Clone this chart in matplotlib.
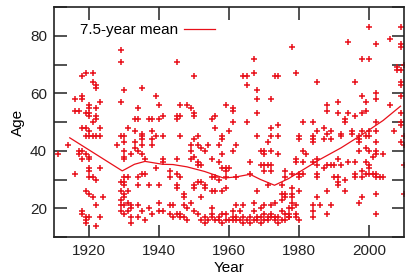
"""Scatter of age against year with a 7.5-year running mean."""
import matplotlib
matplotlib.use("Agg")
import matplotlib.pyplot as plt
from matplotlib.ticker import MultipleLocator

plt.rcParams['font.family'] = ['Liberation Sans', 'DejaVu Sans']

# scatter points: (year, age)
points_1910s = [
    (1911, 39), (1914, 42), (1916, 58), (1918, 59), (1918, 58), (1918, 66), (1919, 67),
    (1921, 67), (1921, 64), (1922, 63), (1922, 62), (1920, 56), (1920, 55), (1923, 57),
    (1922, 55), (1916, 54), (1917, 54), (1919, 53), (1920, 53), (1920, 52), (1922, 51),
    (1922, 52), (1921, 50), (1918, 48), (1919, 48), (1920, 47), (1923, 48), (1920, 45),
    (1921, 45), (1923, 45), (1919, 45), (1917, 40), (1917, 39), (1918, 40), (1919, 39),
    (1920, 38), (1918, 37), (1920, 37), (1922, 45), (1920, 34), (1920, 33), (1923, 34),
    (1916, 32), (1921, 31), (1922, 30), (1920, 31), (1919, 26), (1920, 25), (1921, 24),
    (1924, 24), (1922, 21), (1918, 19), (1918, 18), (1919, 17), (1919, 15), (1920, 17),
    (1923, 17), (1922, 14), (1919, 16),
]
points_1930s = [
    (1929, 75), (1929, 71), (1930, 61), (1929, 57), (1931, 48), (1929, 45), (1930, 45),
    (1930, 43), (1930, 40), (1930, 38), (1930, 37), (1928, 42), (1930, 31), (1930, 29),
    (1931, 31), (1930, 28), (1929, 26), (1930, 25), (1929, 23), (1930, 24), (1931, 22),
    (1932, 21), (1929, 19), (1930, 18), (1931, 19), (1932, 20), (1932, 17), (1932, 15),
    (1929, 21), (1930, 21), (1929, 29), (1931, 26),
    (1933, 51), (1934, 51), (1934, 55), (1935, 62), (1937, 51), (1938, 51), (1940, 51),
    (1941, 52), (1939, 59), (1940, 56), (1933, 47), (1935, 46), (1938, 47), (1939, 45),
    (1938, 44), (1941, 45), (1935, 45), (1933, 43), (1933, 41), (1932, 39), (1934, 40),
    (1935, 44), (1935, 42), (1935, 39), (1936, 37), (1938, 42), (1941, 37), (1935, 32),
    (1934, 31), (1936, 32), (1934, 28), (1937, 28), (1940, 28), (1943, 31), (1943, 33),
    (1941, 36), (1939, 34), (1934, 21), (1935, 19), (1937, 20), (1938, 18), (1940, 19),
    (1940, 22), (1941, 19), (1943, 18), (1943, 21), (1934, 17), (1936, 16),
]
points_1950s = [
    (1945, 71), (1967, 72), (1950, 66), (1964, 66), (1965, 66), (1967, 67), (1973, 66),
    (1974, 66), (1965, 63), (1968, 61), (1968, 58), (1972, 58), (1946, 56), (1948, 56),
    (1949, 55), (1950, 53), (1950, 52), (1945, 52), (1946, 52), (1945, 51), (1959, 56),
    (1961, 55), (1961, 54), (1956, 52), (1955, 51), (1968, 53), (1961, 50), (1965, 50),
    (1956, 48), (1960, 47), (1972, 48), (1974, 49), (1946, 45), (1951, 45), (1958, 45),
    (1968, 45), (1972, 45), (1974, 45), (1950, 44), (1958, 44), (1949, 42), (1949, 40),
    (1951, 42), (1952, 41), (1953, 40), (1954, 42), (1957, 42), (1958, 39), (1961, 40),
    (1962, 42), (1969, 40), (1970, 39), (1971, 43), (1970, 40), (1972, 40), (1974, 39),
    (1945, 37), (1949, 37), (1950, 38), (1951, 36), (1952, 35), (1951, 35), (1955, 37),
    (1957, 36), (1958, 34), (1959, 34), (1960, 34), (1959, 33), (1966, 36), (1969, 35),
    (1970, 35), (1971, 35), (1972, 35), (1970, 33), (1972, 33), (1976, 33), (1976, 31),
    (1945, 32), (1946, 31), (1955, 31), (1956, 31), (1957, 30), (1959, 31), (1962, 31),
    (1966, 32), (1950, 28), (1951, 29), (1952, 29), (1953, 28), (1953, 27), (1950, 27),
    (1945, 28), (1945, 27), (1955, 26), (1956, 26), (1958, 26), (1959, 27), (1968, 26),
    (1971, 28), (1975, 28), (1947, 25), (1947, 24), (1952, 24), (1975, 25), (1976, 24),
    (1976, 25), (1975, 23), (1944, 21), (1947, 21), (1949, 22), (1948, 20), (1950, 19),
    (1951, 18), (1945, 18), (1946, 18), (1946, 17), (1947, 17), (1962, 21), (1964, 21),
    (1967, 22), (1970, 21), (1972, 21), (1973, 22), (1961, 19), (1944, 17), (1948, 16),
]
# the dense band of young ages, 1952-1977
band_years = [1952, 1953, 1954, 1955, 1956, 1957, 1958, 1959, 1960, 1961, 1962, 1963, 1964,
              1965, 1966, 1967, 1968, 1969, 1970, 1971, 1972, 1973, 1974, 1975, 1976, 1977]
band_ages = [16, 15, 16, 17, 16, 16, 15, 16, 16, 17, 16, 16, 15,
             16, 17, 16, 16, 15, 16, 16, 17, 16, 15, 16, 16, 17]
band2_years = [1953, 1955, 1957, 1958, 1961, 1962, 1964, 1966, 1968, 1969, 1970, 1971, 1973,
               1974, 1976, 1955, 1959, 1963, 1967, 1969, 1972, 1975, 1977]
band2_ages = [17, 18, 17, 18, 16, 17, 17, 15, 17, 17, 18, 17, 17,
              17, 18, 20, 18, 19, 19, 20, 18, 19, 18]
points_1980s = [
    (1978, 76), (1994, 78), (2002, 77), (2009, 77), (2009, 76), (2000, 83), (2009, 83),
    (2006, 79), (1998, 72), (2000, 72), (2008, 69), (2009, 68), (2008, 68), (2010, 70),
    (1979, 67), (1985, 64), (1996, 64), (2009, 64), (2009, 63), (2002, 60), (2002, 58),
    (1998, 59), (1999, 57), (1991, 57), (2009, 59), (1988, 56), (1988, 54), (1999, 54),
    (1998, 53), (2006, 56), (1991, 53), (1994, 53), (1996, 52), (1993, 51), (1993, 50),
    (2009, 53), (2009, 50), (2009, 49), (1981, 50), (1984, 50), (2002, 50), (1987, 48),
    (1985, 47), (1989, 47), (1988, 46), (1995, 47), (1995, 46), (1992, 46), (1998, 47),
    (2000, 47), (2002, 47), (2007, 47), (1980, 45), (1984, 45), (1997, 45), (2000, 45),
    (2010, 45), (1980, 44), (1984, 44), (1984, 43), (1987, 44), (1989, 44), (1992, 45),
    (1997, 44), (1997, 43), (1999, 45), (2002, 43), (1981, 40), (1982, 39), (1997, 40),
    (1999, 41), (2000, 40), (2002, 40), (2002, 39), (2004, 39), (2001, 38), (2010, 42),
    (2009, 43), (1979, 37), (1979, 36), (1981, 36), (1984, 36), (1985, 37), (1985, 35),
    (1987, 34), (1988, 35), (1989, 35), (1990, 35), (1991, 37), (1992, 35), (1994, 36),
    (1996, 36), (1999, 36), (2000, 35), (2000, 34), (2010, 35), (1978, 32), (1980, 32),
    (1981, 32), (1980, 31), (1985, 32), (1985, 31), (1990, 31), (1991, 31), (1991, 29),
    (1993, 30), (1991, 28), (1996, 32), (1996, 31), (1998, 31), (1999, 32), (2000, 32),
    (2001, 32), (2002, 32), (2002, 31), (2003, 31), (2004, 31), (1998, 33), (1980, 26),
    (1978, 25), (1988, 26), (1993, 26), (1998, 24), (2002, 25), (2010, 25), (1985, 24),
    (1986, 21), (1984, 21), (1989, 21), (1997, 22), (1984, 19), (1984, 17), (1988, 18),
    (1980, 16), (2002, 18), (1978, 24), (1978, 22), (1979, 21), (1978, 20), (1979, 18),
    (1977, 17), (1979, 17), (1977, 20), (1978, 27),
]

# 7.5-year running mean
mean_years = [1914.5, 1929.5, 1933, 1936, 1941, 1944, 1948, 1953, 1958.5, 1962, 1966,
              1969, 1973, 1977, 1986, 1992, 1998.5, 2004, 2009]
mean_ages = [44.5, 33, 35.3, 36.3, 35.3, 35.2, 34.4, 32.8, 30.5, 30.9, 31.8,
             30, 28, 30.3, 37, 41, 46, 50.5, 55.5]

red = '#e8101a'

pts = points_1910s + points_1930s + points_1950s + points_1980s
xs = [p[0] for p in pts] + band_years + band2_years
ys = [p[1] for p in pts] + band_ages + band2_ages

fig = plt.figure(figsize=(4.09, 2.75), dpi=100)
ax = fig.add_axes([54 / 409, 38 / 275, 350 / 409, 230 / 275])

ax.plot(xs, ys, linestyle='none', marker='+', markersize=5, markeredgewidth=1.1,
        color=red)
ax.plot(mean_years, mean_ages, color=red, linewidth=0.9, label='7.5-year mean')

ax.set_xlim(1910, 2010)
ax.set_ylim(10, 90)
ax.set_xticks([1920, 1940, 1960, 1980, 2000])
ax.yaxis.set_major_locator(MultipleLocator(20))
ax.yaxis.set_minor_locator(MultipleLocator(10))
ax.tick_params(which='both', direction='in', length=9, width=1.1, top=True, right=True,
               labelsize=11, pad=5, colors='#222222')
ax.set_yticks([20, 40, 60, 80])
for s in ax.spines.values():
    s.set_linewidth(1.2)
    s.set_color('#222222')

ax.set_xlabel('Year', fontsize=11, labelpad=2)
ax.set_ylabel('Age', fontsize=11, labelpad=4)

ax.legend(loc='upper left', bbox_to_anchor=(0.075, 0.93), frameon=False, markerfirst=False,
          borderpad=0, borderaxespad=0, handlelength=2.0, handletextpad=0.4, fontsize=11)

fig.savefig('out.png', dpi=100)
plt.close(fig)
